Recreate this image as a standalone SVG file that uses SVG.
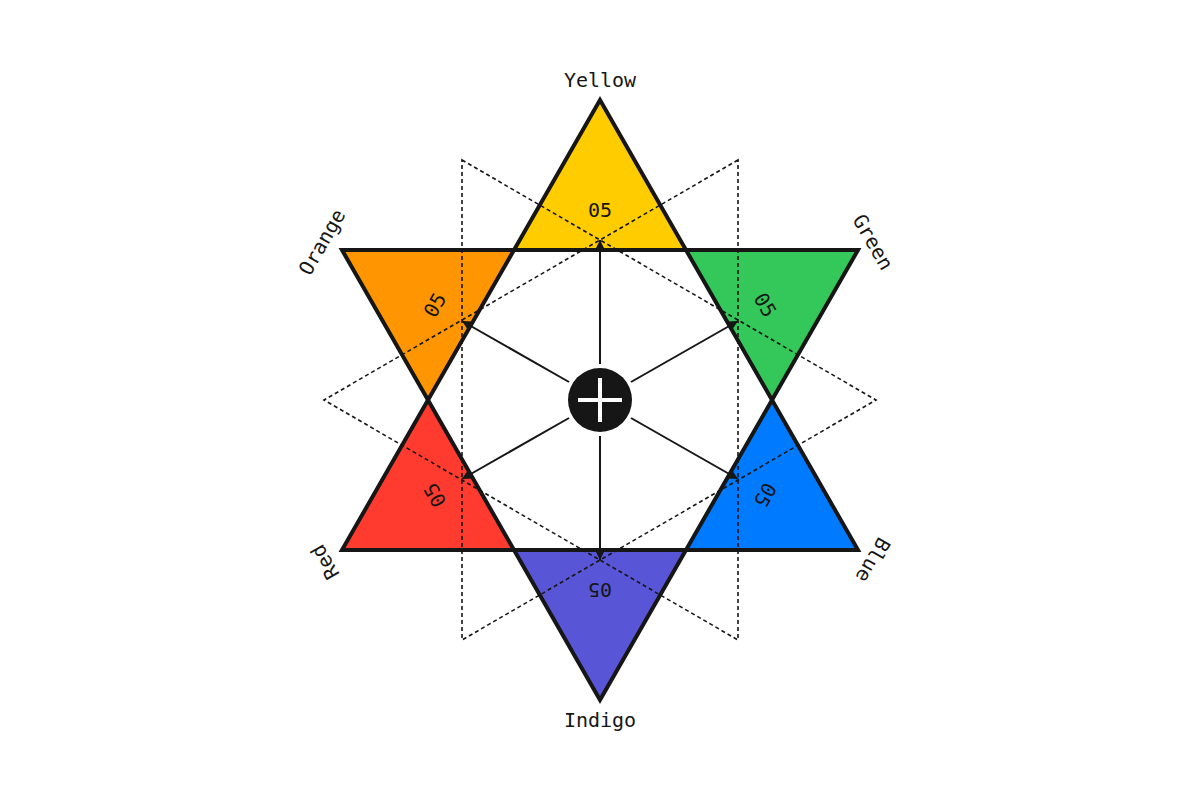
<svg xmlns="http://www.w3.org/2000/svg" width="1200" height="800" viewBox="0 0 1200 800">
<style>
.tri{stroke:#161616;stroke-width:4;stroke-linejoin:miter}
.dash{fill:none;stroke:#161616;stroke-width:1.6;stroke-dasharray:4 3}
.spoke{stroke:#161616;stroke-width:2}
text{font-family:"DejaVu Sans Mono","Liberation Mono",monospace;font-size:20px;fill:#161616;text-anchor:middle;dominant-baseline:central}
</style>
<defs>
<marker id="ah" viewBox="0 0 10 10" refX="10" refY="5" markerWidth="5" markerHeight="5" orient="auto"><path d="M0,0L10,5L0,10Z" fill="#161616"/></marker>
</defs>
<rect width="1200" height="800" fill="#fff"/>
<g id="yellow"><polygon class="tri" fill="#FFCC00" points="600,100 686,250 514,250"/><text x="600" y="210">05</text><text x="600" y="80">Yellow</text></g>
<g id="green"><polygon class="tri" fill="#34C759" points="686,250 858,250 772,400"/><text transform="translate(765,305) rotate(60)">05</text><text transform="translate(873,242) rotate(60)">Green</text></g>
<g id="blue"><polygon class="tri" fill="#007AFF" points="772,400 858,550 686,550"/><text transform="translate(765,495) rotate(120)">05</text><text transform="translate(873,560) rotate(120)">Blue</text></g>
<g id="indigo"><polygon class="tri" fill="#5856D6" points="514,550 686,550 600,700"/><text transform="translate(600,590) rotate(180)">05</text><text x="600" y="720">Indigo</text></g>
<g id="red"><polygon class="tri" fill="#FF3B30" points="428,400 514,550 342,550"/><text transform="translate(435,495) rotate(240)">05</text><text transform="translate(325,562) rotate(240)">Red</text></g>
<g id="orange"><polygon class="tri" fill="#FF9500" points="342,250 514,250 428,400"/><text transform="translate(435,305) rotate(300)">05</text><text transform="translate(322,242) rotate(300)">Orange</text></g>
<g id="connectors">
<polygon class="dash" points="462,160 876,400 462,640"/>
<polygon class="dash" points="738,160 324,400 738,640"/>
<line class="spoke" x1="600" y1="364" x2="600" y2="240" marker-end="url(#ah)"/>
<line class="spoke" x1="631" y1="382" x2="738" y2="321" marker-end="url(#ah)"/>
<line class="spoke" x1="631" y1="418" x2="738" y2="479" marker-end="url(#ah)"/>
<line class="spoke" x1="600" y1="436" x2="600" y2="560" marker-end="url(#ah)"/>
<line class="spoke" x1="569" y1="418" x2="462" y2="479" marker-end="url(#ah)"/>
<line class="spoke" x1="569" y1="382" x2="462" y2="321" marker-end="url(#ah)"/>
</g>
<g id="center"><circle cx="600" cy="400" r="32" fill="#161616"/><path d="M578,400H622M600,378V422" stroke="#fff" stroke-width="4"/></g>
</svg>
